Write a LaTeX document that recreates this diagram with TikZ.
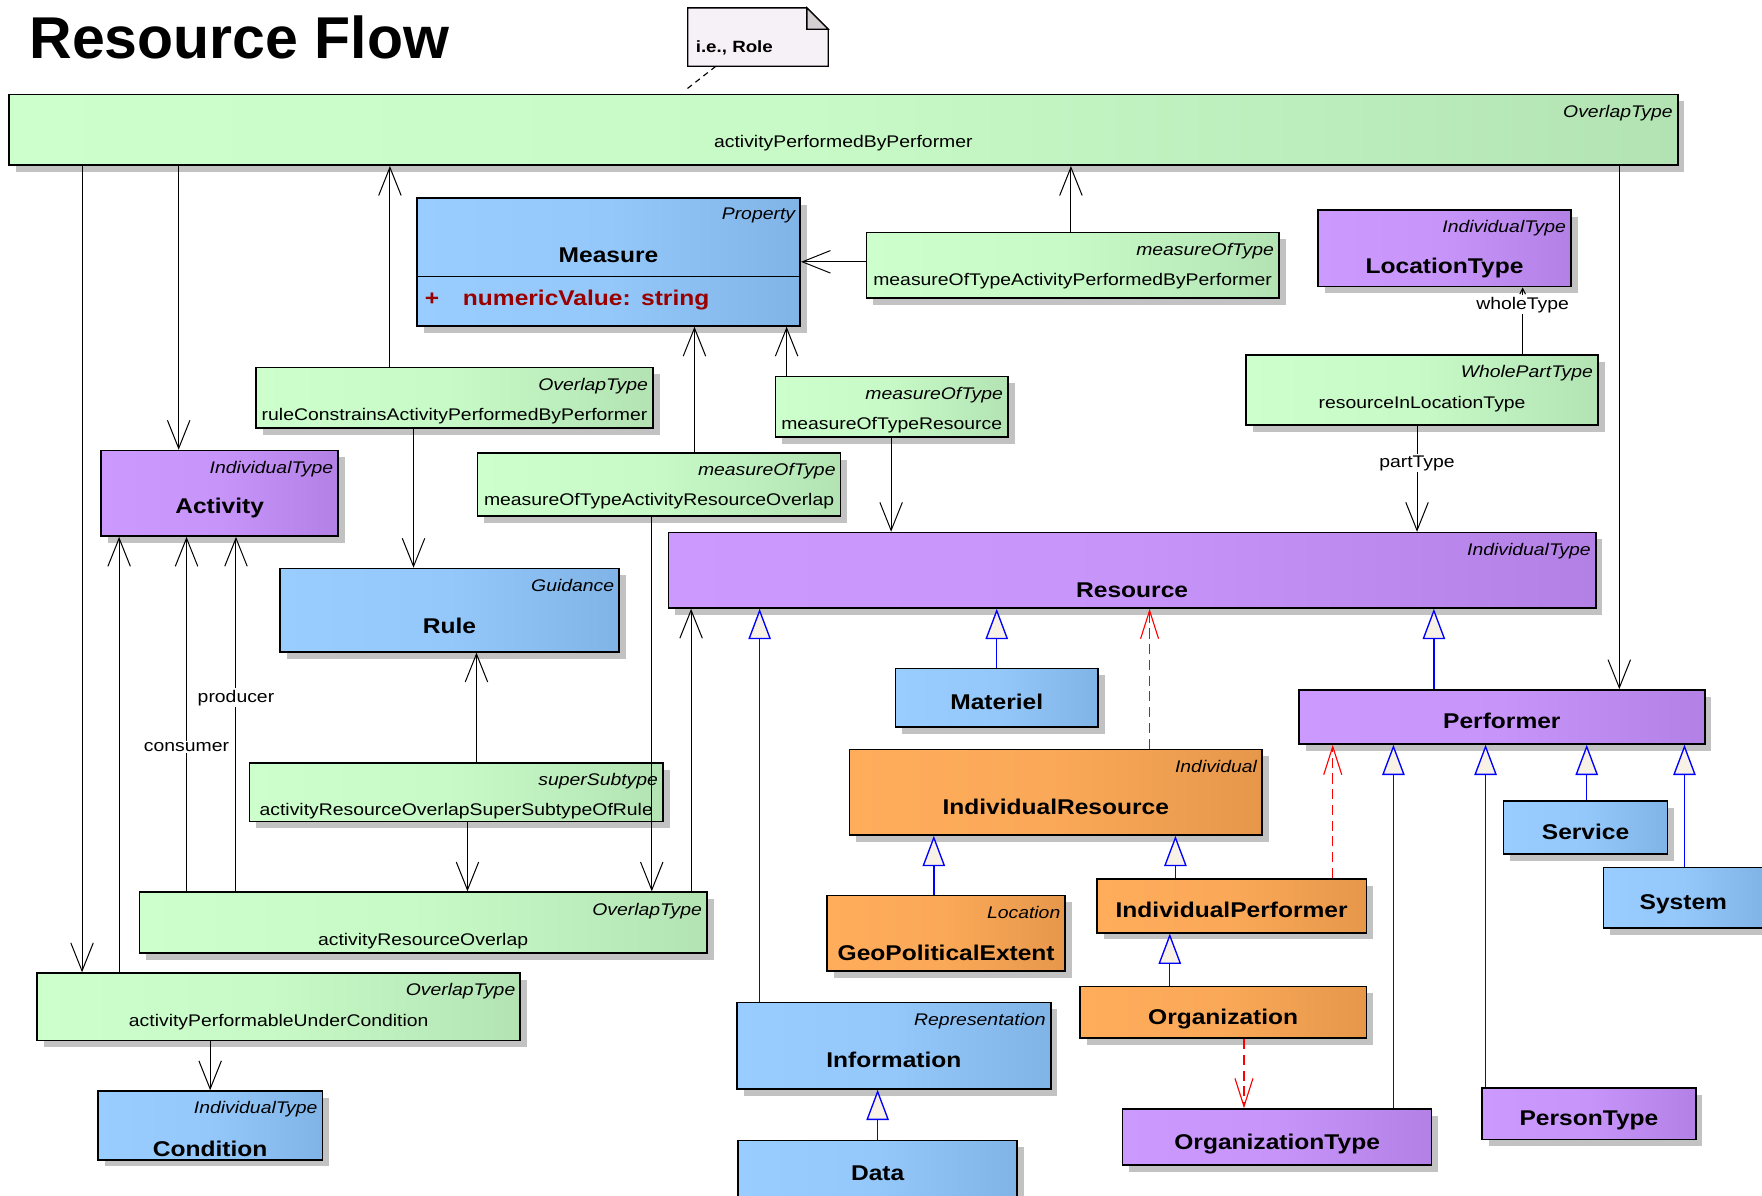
\documentclass[tikz,border=0pt]{standalone}
\usepackage{fontspec}
\setmainfont{Liberation Sans}
\newfontfamily\umlfont[FakeStretch=1.15]{Liberation Sans}
\usetikzlibrary{arrows.meta,shadows}

\begin{document}
\begin{tikzpicture}[x=1pt, y=-1pt,
    box/.style={draw=black, line width=1.5pt, inner sep=0pt,
      drop shadow={shadow xshift=6pt, shadow yshift=-6pt, fill=black!24, opacity=1}},
    grn/.style={box, left color=gleft, right color=gright, middle color=gleft!80!gright},
    blu/.style={box, left color=bleft, right color=bright, middle color=bleft!80!bright},
    pur/.style={box, left color=pleft, right color=pright, middle color=pleft!80!pright},
    org/.style={box, left color=oleft, right color=oright, middle color=oleft!80!oright},
    stereo/.style={font=\umlfont\itshape\fontsize{15}{18}\selectfont, anchor=north east,
      inner sep=0pt, xshift=-5, yshift=-10},
    nm/.style={font=\umlfont\fontsize{15}{18}\selectfont, anchor=center, inner sep=0pt},
    bnm/.style={font=\umlfont\bfseries\fontsize{19}{22}\selectfont, anchor=center, inner sep=0pt},
    cls/.style={bnm, text height=21pt, text depth=0pt},
    rel/.style 2 args={grn, label={[stereo]north east:#1}, label={[nm, yshift=-44]north:#2}},
    typ/.style 2 args={label={[stereo]north east:#1}, label={[bnm, yshift=-52]north:#2}},
    assoc/.style={line width=0.9pt, -{Straight Barb[length=25pt, width=20pt]}},
    gen/.style={draw=blue, line width=1.2pt, -{Triangle[length=27pt, width=20pt, fill=cream]}},
    dep/.style={draw=red, line width=1pt, dash pattern=on 9pt off 5pt,
      -{Straight Barb[length=25pt, width=16pt]}},
    role/.style={font=\umlfont\fontsize{15}{18}\selectfont, fill=white, inner sep=1.5pt}]
    % colours %
    \definecolor{gleft}{HTML}{CCFFCC}
    \definecolor{gright}{HTML}{B3E3B3}
    \definecolor{bleft}{HTML}{99CCFF}
    \definecolor{bright}{HTML}{80B3E6}
    \definecolor{pleft}{HTML}{CC99FF}
    \definecolor{pright}{HTML}{B380E6}
    \definecolor{oleft}{HTML}{FFAD5B}
    \definecolor{oright}{HTML}{E6974A}
    \definecolor{cream}{HTML}{F8F1E6}
    \definecolor{attrred}{HTML}{990000}
    \definecolor{notefill}{HTML}{F6F1F6}
    \definecolor{foldgray}{HTML}{D3CFD3}
    \useasboundingbox (0,0) rectangle (1568,1064);
    \clip (0,0) rectangle (1568,1064);

    % title and note %
    \node[font=\bfseries\fontsize{52.5}{60}\selectfont, anchor=base west, inner sep=0pt] (title) at (26,52) {Resource Flow};
    \filldraw[fill=notefill, line width=1.2pt] (612,7) -- (718,7) -- (737,26) -- (737,59) -- (612,59) -- cycle;
    \filldraw[fill=foldgray, line width=1.2pt] (718,7) -- (718,26) -- (737,26) -- cycle;
    \node[font=\umlfont\bfseries\fontsize{14.5}{17}\selectfont, anchor=base west, inner sep=0pt] (note) at (619,47) {i.e., Role};
    \coordinate (notefoot) at (637,59);

    % classes and relationships %
    \node[rel={OverlapType}{activityPerformedByPerformer}, minimum width=1485, minimum height=63] (apbp) at (750.5,115.5) {};
    \node[blu, typ={Property}{Measure}, minimum width=341, minimum height=114] (measure) at (541.5,233) {};
    \node[rel={measureOfType}{measureOfTypeActivityPerformedByPerformer}, minimum width=367, minimum height=58] (mtapbp) at (954.5,236) {};
    \node[pur, typ={IndividualType}{LocationType}, minimum width=225, minimum height=68] (loctype) at (1285.5,221) {};
    \node[rel={WholePartType}{resourceInLocationType}, minimum width=313, minimum height=62] (rilt) at (1265.5,347) {};
    \node[rel={OverlapType}{ruleConstrainsActivityPerformedByPerformer}, minimum width=353, minimum height=54] (rcapbp) at (404.5,354) {};
    \node[rel={measureOfType}{measureOfTypeResource}, minimum width=207, minimum height=54] (motr) at (793.5,362) {};
    \node[pur, typ={IndividualType}{Activity}, minimum width=211, minimum height=76] (activity) at (195.5,439) {};
    \node[rel={measureOfType}{measureOfTypeActivityResourceOverlap}, minimum width=323, minimum height=56] (motaro) at (586.5,431) {};
    \node[blu, typ={Guidance}{Rule}, minimum width=302, minimum height=74] (rule) at (400,543) {};
    \node[pur, typ={IndividualType}{Resource}, minimum width=825, minimum height=67] (resource) at (1007.5,507.5) {};
    \node[blu, cls, minimum width=180, minimum height=52] (materiel) at (887,621) {Materiel};
    \node[pur, cls, minimum width=361, minimum height=48] (performer) at (1336.5,638) {Performer};
    \node[org, typ={Individual}{IndividualResource}, minimum width=367, minimum height=76] (indres) at (939.5,705) {};
    \node[rel={superSubtype}{activityResourceOverlapSuperSubtypeOfRule}, minimum width=368, minimum height=52] (arosr) at (406,705) {};
    \node[blu, cls, minimum width=146, minimum height=47] (service) at (1411,736.5) {Service};
    \node[blu, cls, minimum width=142, minimum height=54] (system) at (1498,799) {System};
    \node[org, typ={Location}{GeoPoliticalExtent}, minimum width=212, minimum height=67] (geo) at (842,830.5) {};
    \node[org, cls, minimum width=240, minimum height=48] (indperf) at (1096,806) {IndividualPerformer};
    \node[rel={OverlapType}{activityResourceOverlap}, minimum width=505, minimum height=54] (aro) at (376.5,821) {};
    \node[rel={OverlapType}{activityPerformableUnderCondition}, minimum width=430, minimum height=60] (apuc) at (248,896) {};
    \node[org, cls, minimum width=255, minimum height=46] (organization) at (1088.5,901) {Organization};
    \node[blu, typ={Representation}{Information}, minimum width=279, minimum height=77] (information) at (795.5,930.5) {};
    \node[blu, typ={IndividualType}{Condition}, minimum width=200, minimum height=61] (condition) at (187,1001.5) {};
    \node[pur, cls, minimum width=275, minimum height=50] (orgtype) at (1136.5,1012) {OrganizationType};
    \node[pur, cls, minimum width=190, minimum height=46] (persontype) at (1414,991) {PersonType};
    \node[blu, cls, minimum width=248, minimum height=50] (data) at (781,1040) {Data};

    % attribute compartment of Measure %
    \draw[line width=1.5pt] (measure.west |- 0,246) -- (measure.east |- 0,246);
    \node[font=\umlfont\bfseries\fontsize{19}{22}\selectfont, text=attrred, anchor=west, inner sep=0pt] (mattr) at (378,267) {+\hspace{21pt}numericValue:~\,string};

    % note anchor %
    \draw[line width=1pt, dash pattern=on 5pt off 4pt, shorten >=4pt] (notefoot) -- (apbp.north -| 606,0);

    % associations %
    \draw[assoc] (apbp.south -| 159,0) -- (activity.north -| 159,0);
    \draw[assoc] (apbp.south -| 73,0) -- (apuc.north -| 73,0);
    \draw[assoc] (rcapbp.north -| 347,0) -- (apbp.south -| 347,0);
    \draw[assoc] (mtapbp.north -| 953,0) -- (apbp.south -| 953,0);
    \draw[assoc] (mtapbp.west |- measure.east) -- (measure.east);
    \draw[assoc] (apbp.south -| 1441,0) -- (performer.north -| 1441,0);
    \draw[line width=0.9pt, -{Straight Barb[length=5pt, width=5pt]}] (rilt.north -| 1355,0) -- node[role, pos=0.74] {wholeType} (loctype.south -| 1355,0);
    \draw[assoc] (rilt.south -| 1261,0) -- node[role, pos=0.354] {partType} (resource.north -| 1261,0);
    \draw[assoc] (rcapbp.south -| 368,0) -- (rule.north -| 368,0);
    \draw[assoc] (motaro.north -| 618,0) -- (measure.south -| 618,0);
    \draw[assoc] (motr.north -| 700,0) -- (measure.south -| 700,0);
    \draw[assoc] (motr.south -| 793,0) -- (resource.north -| 793,0);
    \draw[assoc] (motaro.south -| 580,0) -- (aro.north -| 580,0);
    \draw[assoc] (aro.north -| 615,0) -- (resource.south -| 615,0);
    \draw[assoc] (aro.north -| 166,0) -- node[role, pos=0.407] {consumer} (activity.south -| 166,0);
    \draw[assoc] (aro.north -| 210,0) -- node[role, pos=0.546] {producer} (activity.south -| 210,0);
    \draw[assoc] (apuc.north -| 106,0) -- (activity.south -| 106,0);
    \draw[assoc] (apuc.south -| 187,0) -- (condition.north -| 187,0);
    \draw[assoc] (arosr.north -| 424,0) -- (rule.south -| 424,0);
    \draw[assoc] (arosr.south -| 416,0) -- (aro.north -| 416,0);

    % generalizations %
    \draw[gen] (information.north -| 676,0) -- (resource.south -| 676,0);
    \draw[gen] (materiel.north) -- (materiel.north |- resource.south);
    \draw[gen] (performer.north -| 1276,0) -- (resource.south -| 1276,0);
    \draw[gen] (geo.north -| 831,0) -- (indres.south -| 831,0);
    \draw[gen] (indperf.north -| 1046,0) -- (indres.south -| 1046,0);
    \draw[gen] (organization.north -| 1041,0) -- (indperf.south -| 1041,0);
    \draw[gen] (data.north) -- (information.south -| data.north);
    \draw[gen] (orgtype.north -| 1240,0) -- (performer.south -| 1240,0);
    \draw[gen] (persontype.north -| 1322,0) -- (performer.south -| 1322,0);
    \draw[gen] (service.north -| 1412,0) -- (performer.south -| 1412,0);
    \draw[gen] (system.north -| 1499,0) -- (performer.south -| 1499,0);

    % dependencies %
    \draw[dep] (indres.north -| 1023,0) -- (resource.south -| 1023,0);
    \draw[dep] (indperf.north -| 1186,0) -- (performer.south -| 1186,0);
    \draw[dep] (organization.south -| 1107,0) -- (orgtype.north -| 1107,0);
\end{tikzpicture}
\end{document}
